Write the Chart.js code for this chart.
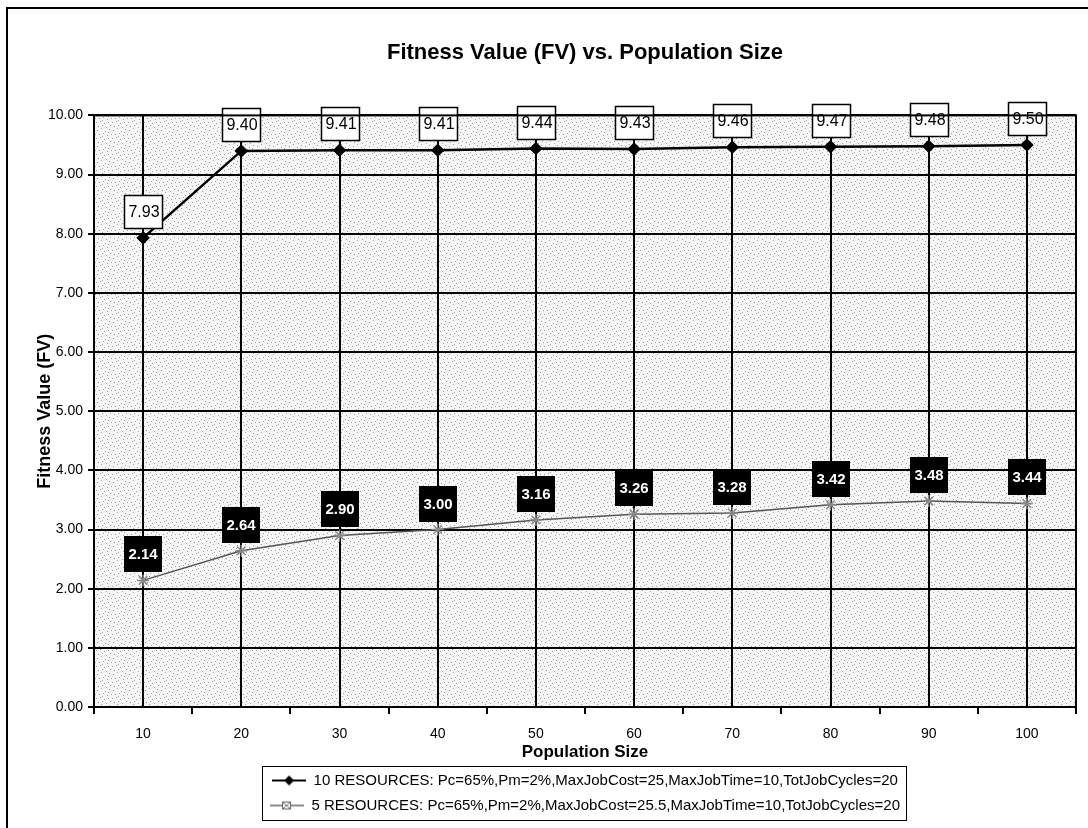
<!DOCTYPE html>
<html>
<head>
<meta charset="utf-8">
<script src="https://cdn.jsdelivr.net/npm/chart.js@4.4.1/dist/chart.umd.min.js"></script>
<style>
  html, body { margin: 0; padding: 0; background: #fff; }
  #wrap { width: 1088px; height: 828px; }
</style>
</head>
<body>
<div id="wrap"><canvas id="chart" width="1088" height="828"></canvas></div>
<script>
const popSizes = ['10', '20', '30', '40', '50', '60', '70', '80', '90', '100'];
const fv10Res  = [7.93, 9.40, 9.41, 9.41, 9.44, 9.43, 9.46, 9.47, 9.48, 9.50];
const fv5Res   = [2.14, 2.64, 2.90, 3.00, 3.16, 3.26, 3.28, 3.42, 3.48, 3.44];
const seriesNames = [
  '10 RESOURCES: Pc=65%,Pm=2%,MaxJobCost=25,MaxJobTime=10,TotJobCycles=20',
  '5 RESOURCES: Pc=65%,Pm=2%,MaxJobCost=25.5,MaxJobTime=10,TotJobCycles=20',
];
const yMin = 0, yMax = 10, yStep = 1;

const FONT = "'Liberation Sans', Arial, sans-serif";

// stippled plot background, fixed dot layout
function stipple() {
  const c = document.createElement('canvas');
  c.width = 16; c.height = 16;
  const g = c.getContext('2d');
  g.fillStyle = '#f6f6f6';
  g.fillRect(0, 0, 16, 16);
  const dots = [[1,2],[5,0],[9,3],[13,1],[3,6],[7,5],[11,7],[15,6],[0,10],[4,9],[8,11],[12,10],[2,14],[6,13],[10,15],[14,13],[6,8],[12,4]];
  g.fillStyle = '#a0a0a0';
  dots.forEach(([x, y]) => g.fillRect(x, y, 1, 1));
  return c;
}

// legend samples: line with marker
function legendSample(color, width, marker) {
  const c = document.createElement('canvas');
  c.width = 34; c.height = 14;
  const g = c.getContext('2d');
  g.strokeStyle = color; g.lineWidth = width;
  g.beginPath(); g.moveTo(0, 7); g.lineTo(34, 7); g.stroke();
  if (marker === 'diamond') {
    g.fillStyle = '#000';
    g.beginPath(); g.moveTo(17, 2); g.lineTo(22, 7); g.lineTo(17, 12); g.lineTo(12, 7); g.closePath(); g.fill();
  } else {
    g.fillStyle = '#fff'; g.fillRect(12, 3, 9, 8);
    g.strokeStyle = '#666'; g.lineWidth = 1;
    g.strokeRect(12.5, 3.5, 8, 7);
    g.beginPath(); g.moveTo(13, 4); g.lineTo(20, 10); g.moveTo(20, 4); g.lineTo(13, 10); g.stroke();
  }
  return c;
}

const legendIcons = [legendSample('#000', 2, 'diamond'), legendSample('#666', 1.5, 'star')];

const framePlugin = {
  id: 'frame',
  beforeDraw(chart) {
    const { ctx, chartArea: a } = chart;
    ctx.save();
    ctx.fillStyle = '#fff';
    ctx.fillRect(0, 0, chart.width, chart.height);
    ctx.strokeStyle = '#000';
    ctx.lineWidth = 2;
    ctx.beginPath();
    ctx.moveTo(7, 828); ctx.lineTo(7, 8); ctx.lineTo(1088, 8);
    ctx.stroke();
    ctx.fillStyle = ctx.createPattern(stipple(), 'repeat');
    ctx.fillRect(a.left, a.top, a.right - a.left, a.bottom - a.top);
    ctx.restore();
  },
  afterDraw(chart) {
    const { ctx, chartArea: a } = chart;
    const xs = chart.scales.x;
    ctx.save();
    ctx.strokeStyle = '#000';
    ctx.lineWidth = 2;
    ctx.strokeRect(a.left, a.top, a.right - a.left, a.bottom - a.top);
    // tick marks between categories
    const n = popSizes.length, w = (xs.right - xs.left) / n;
    ctx.beginPath();
    for (let i = 0; i <= n; i++) {
      const x = Math.round(xs.left + i * w);
      ctx.moveTo(x, a.bottom); ctx.lineTo(x, a.bottom + 7);
    }
    ctx.stroke();
    // legend border
    const hb = chart.legend.legendHitBoxes;
    if (hb && hb.length) {
      const l = Math.min(...hb.map(h => h.left)) - 8;
      const r = Math.max(...hb.map(h => h.left + h.width)) + 6;
      const t = Math.min(...hb.map(h => h.top)) - 7;
      const b = Math.max(...hb.map(h => h.top + h.height)) + 7;
      ctx.lineWidth = 1;
      ctx.strokeRect(Math.round(l) + 0.5, Math.round(t) + 0.5, Math.round(r - l), Math.round(b - t));
    }
    ctx.restore();
  },
};

const labelPlugin = {
  id: 'valueBoxes',
  afterDatasetsDraw(chart) {
    const { ctx } = chart;
    ctx.save();
    ctx.textAlign = 'center';
    ctx.textBaseline = 'middle';
    chart.data.datasets.forEach((ds, di) => {
      chart.getDatasetMeta(di).data.forEach((pt, i) => {
        const txt = ds.data[i].toFixed(2);
        if (di === 0) {
          const w = 38, h = 33, x = Math.round(pt.x - w / 2), y = Math.round(pt.y - 10 - h);
          ctx.fillStyle = '#fff';
          ctx.fillRect(x, y, w, h);
          ctx.strokeStyle = '#000'; ctx.lineWidth = 1.5;
          ctx.strokeRect(x + 0.5, y + 0.5, w, h);
          ctx.fillStyle = '#000';
          ctx.font = `16px ${FONT}`;
          ctx.fillText(txt, x + w / 2 + 1, y + h / 2 + 1);
        } else {
          const w = 38, h = 36, x = Math.round(pt.x - w / 2), y = Math.round(pt.y - 8 - h);
          ctx.fillStyle = '#000';
          ctx.fillRect(x, y, w, h);
          ctx.fillStyle = '#fff';
          ctx.font = `bold 15px ${FONT}`;
          ctx.fillText(txt, x + w / 2, y + h / 2 + 1);
        }
      });
    });
    ctx.restore();
  },
};

new Chart(document.getElementById('chart').getContext('2d'), {
  type: 'line',
  data: {
    labels: popSizes,
    datasets: [
      {
        label: seriesNames[0],
        data: fv10Res,
        borderColor: '#000',
        borderWidth: 2.5,
        pointStyle: 'rectRot',
        pointRadius: 5,
        pointBackgroundColor: '#000',
        pointBorderColor: '#000',
        tension: 0,
      },
      {
        label: seriesNames[1],
        data: fv5Res,
        borderColor: '#555',
        borderWidth: 1.5,
        pointStyle: 'star',
        pointRadius: 6,
        pointBorderWidth: 1.5,
        pointBackgroundColor: '#bbb',
        pointBorderColor: '#888',
        tension: 0,
      },
    ],
  },
  options: {
    responsive: false,
    animation: false,
    devicePixelRatio: 1,
    layout: { padding: { top: 40, left: 30, right: 12, bottom: 5 } },
    plugins: {
      title: {
        display: true,
        text: 'Fitness Value (FV) vs. Population Size',
        fullSize: false,
        color: '#000',
        font: { family: FONT, size: 22, weight: 'bold' },
        padding: { top: 0, bottom: 49 },
      },
      legend: {
        position: 'bottom',
        fullSize: false,
        labels: {
          color: '#000',
          font: { family: FONT, size: 15 },
          padding: 10,
          usePointStyle: true,
          pointStyleWidth: 34,
          generateLabels: chart => chart.data.datasets.map((ds, i) => ({
            text: ds.label,
            pointStyle: legendIcons[i],
            fillStyle: 'transparent',
            strokeStyle: 'transparent',
            lineWidth: 0,
            datasetIndex: i,
          })),
        },
      },
      tooltip: { enabled: false },
    },
    scales: {
      x: {
        offset: true,
        afterFit: s => { s.height = 56; },
        grid: { offset: false, color: '#000', lineWidth: 2, drawTicks: false },
        border: { color: '#000', width: 2 },
        ticks: { color: '#000', padding: 19, font: { family: FONT, size: 14 } },
        title: {
          display: true, text: 'Population Size', color: '#000',
          font: { family: FONT, size: 17, weight: 'bold' },
          padding: { top: 0, bottom: 0 },
        },
      },
      y: {
        min: yMin, max: yMax,
        afterFit: s => { s.width = 64; },
        grid: { color: '#000', lineWidth: 2, tickLength: 6, tickColor: '#000' },
        border: { color: '#000', width: 2 },
        ticks: {
          stepSize: yStep, color: '#000', padding: 5,
          font: { family: FONT, size: 14 },
          callback: v => Number(v).toFixed(2),
        },
        title: {
          display: true, text: 'Fitness Value (FV)', color: '#000',
          font: { family: FONT, size: 18, weight: 'bold' },
          padding: { top: 4, bottom: 4 },
        },
      },
    },
  },
  plugins: [framePlugin, labelPlugin],
});
</script>
</body>
</html>
